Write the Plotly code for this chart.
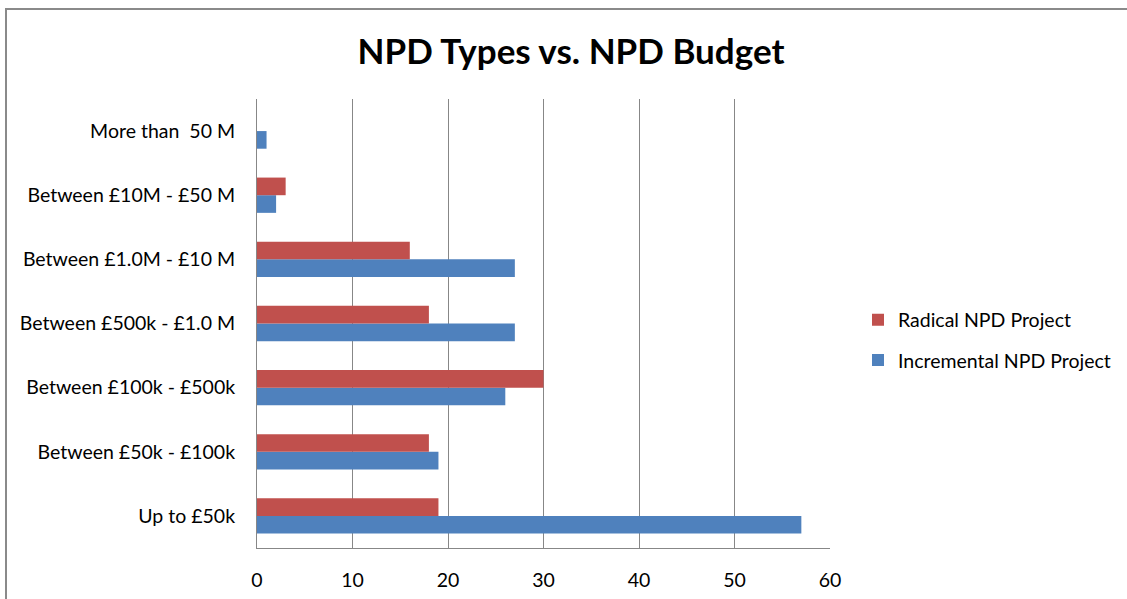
import plotly.graph_objects as go

categories = [
    "Up to £50k",
    "Between £50k - £100k",
    "Between £100k - £500k",
    "Between £500k - £1.0 M",
    "Between £1.0M - £10 M",
    "Between £10M - £50 M",
    "More than  50 M",
]
incremental = [57, 19, 26, 27, 27, 2, 1]
radical = [19, 18, 30, 18, 16, 3, 0]
x_ticks = [0, 10, 20, 30, 40, 50, 60]

W, H = 1127, 599
L, R, T, B = 257, 297, 99, 51
pw, ph = W - L - R, H - T - B

fig = go.Figure()
fig.add_trace(go.Bar(
    y=categories, x=incremental, orientation="h",
    name="Incremental NPD Project", legendgroup="inc", legendrank=2,
    marker=dict(color="#4F81BD", line=dict(width=0)),
))
fig.add_trace(go.Bar(
    y=categories, x=radical, orientation="h",
    name="Radical NPD Project", legendgroup="rad", legendrank=1,
    marker=dict(color="#C0504D", line=dict(width=0)),
))

font = "Lato, 'Open Sans', sans-serif"
label_size = 19.5

fig.update_layout(
    width=W, height=H,
    margin=dict(l=L, r=R, t=T, b=B, pad=0, autoexpand=False),
    paper_bgcolor="white", plot_bgcolor="white",
    barmode="group", bargap=0.45, bargroupgap=0,
    font=dict(family=font, size=label_size, color="#000000"),
    title=dict(
        text="<b>NPD Types vs. NPD Budget</b>",
        x=(571 / W), xanchor="center", y=1 - 52 / H, yanchor="middle",
        font=dict(family=font, size=35, color="#000000"),
    ),
    xaxis=dict(
        range=[0, 60], tickvals=x_ticks, ticktext=[str(v) for v in x_ticks],
        showgrid=True, gridcolor="#878787", gridwidth=1,
        showline=True, linecolor="#878787", linewidth=1,
        zeroline=False, ticks="", ticklabelstandoff=15,
        tickfont=dict(size=label_size), automargin=False,
        fixedrange=True,
    ),
    yaxis=dict(
        categoryorder="array", categoryarray=categories,
        showgrid=False, showline=True, linecolor="#878787", linewidth=1,
        ticks="", ticklabelstandoff=17, tickfont=dict(size=label_size),
        automargin=False, fixedrange=True,
    ),
    legend=dict(
        traceorder="grouped", tracegroupgap=12,
        x=(858 - L) / pw, xanchor="left",
        y=(548 - 340) / ph, yanchor="middle",
        font=dict(size=label_size), itemwidth=30,
        bgcolor="rgba(0,0,0,0)",
    ),
    showlegend=True,
    shapes=[dict(
        type="rect", xref="paper", yref="paper",
        x0=(6 - L) / pw, x1=(W + 20 - L) / pw,
        y0=-(H + 20 - 548) / ph, y1=(548 - 9) / ph,
        line=dict(color="#8A8A8A", width=2), fillcolor="rgba(0,0,0,0)",
        layer="below",
    )],
)

fig.write_html("out.html")
